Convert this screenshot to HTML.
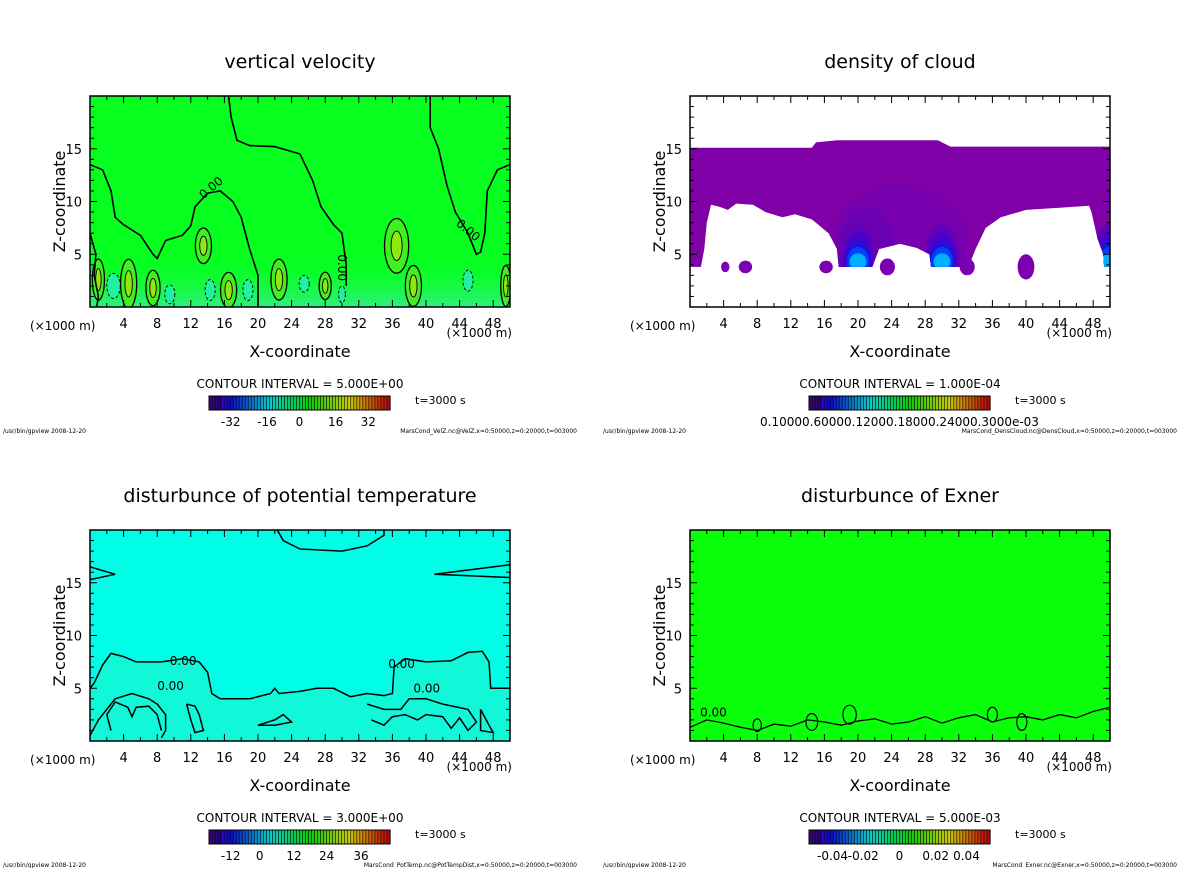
<!DOCTYPE html>
<html><head><meta charset="utf-8"><style>
body{margin:0;background:#fff;}
svg text{font-family:"DejaVu Sans","Liberation Sans",sans-serif;fill:#000;}
</style></head><body>
<svg id="s" width="1200" height="868" xmlns="http://www.w3.org/2000/svg"></svg>
<script>
const xTicks=[4,8,12,16,20,24,28,32,36,40,44,48];
const zTicks=[5,10,15];
const titles=["vertical velocity","density of cloud","disturbunce of potential temperature","disturbunce of Exner"];
const intervals=["CONTOUR INTERVAL = 5.000E+00","CONTOUR INTERVAL = 1.000E-04","CONTOUR INTERVAL = 3.000E+00","CONTOUR INTERVAL = 5.000E-03"];
const cbLabels=[["-32","-16","0","16","32"],["0.10000.60000.12000.18000.24000.3000e-03"],["-12","0","12","24","36"],["-0.04","-0.02","0","0.02","0.04"]];
const cbPos=[[0.12,0.32,0.5,0.7,0.88],[0.5],[0.12,0.28,0.47,0.65,0.84],[0.13,0.3,0.5,0.7,0.87]];
const files=["MarsCond_VelZ.nc@VelZ,x=0:50000,z=0:20000,t=003000","MarsCond_DensCloud.nc@DensCloud,x=0:50000,z=0:20000,t=003000","MarsCond_PotTemp.nc@PotTempDist,x=0:50000,z=0:20000,t=003000","MarsCond_Exner.nc@Exner,x=0:50000,z=0:20000,t=003000"];
const velLines=[
[[0,13.5],[1.5,13],[2.5,11],[3,8.5],[4,7.8],[6,6.8],[7.5,5],[8,4.6],[9,6.3],[11,6.8],[12,7.7],[12.5,9.5],[14,10.8],[15.5,11],[17,10],[18,8.5],[19,5.5],[20,3],[20,0]],
[[16.5,20],[16.8,18],[17.5,15.8],[19,15.3],[22,15.2],[25,14.5],[26.5,12],[27.5,9.5],[29,7.8],[30,7],[30.5,4],[30.5,2]],
[[40.5,20],[40.5,17],[41.5,15],[42.5,11.5],[43.5,9],[45,7],[46,5],[46.5,5.2],[47,7],[47.3,11],[48.5,13],[50,13.5]],
[[0,7],[0.7,5],[0.5,3],[1,1],[0.8,0]]];
const velPos=[[1,2.6,.6,1.5],[4.6,2.2,.8,1.8],[7.5,1.8,.7,1.3],[16.5,1.6,.8,1.3],[22.5,2.6,.8,1.5],[28,2,.6,1],[38.5,2,.8,1.5],[49.5,2,.5,1.5],[13.5,5.8,.8,1.3],[36.5,5.8,1.2,2]];
const velNeg=[[2.8,2,.8,1.2],[9.5,1.2,.6,.9],[14.3,1.6,.6,1],[18.8,1.6,.6,1],[25.5,2.2,.6,.8],[30,1.2,.4,.8],[45,2.5,.6,1]];
const cloudPoly=[[0,15.1],[14.5,15.1],[15,15.6],[17.5,15.8],[29.5,15.8],[31,15.2],[50,15.2],[50,3.8],[49.3,3.8],[49.2,5],[48.5,6.5],[47.8,9],[47.5,9.6],[44,9.4],[40,9.2],[37,8.5],[35.2,7.5],[34,5.5],[33.5,4.5],[33.5,3.8],[28.7,3.8],[28.5,5],[27,5.6],[25,6],[22.5,5.5],[21.7,3.8],[17.7,3.8],[17.5,5.5],[16.5,7],[14.5,8.3],[12.5,8.8],[11,8.5],[9,9],[7.5,9.7],[5.5,9.8],[4.5,9.2],[3.5,9.5],[2.5,9.7],[2,8],[1.7,5.5],[1.3,3.8],[0,3.8]];
const cloudBlobs=[[4.2,3.8,.5,.5],[6.6,3.8,.8,.6],[16.2,3.8,.8,.6],[23.5,3.8,.9,.8],[40,3.8,1,1.2],[33,3.8,.9,.8]];
const cloudCores=[[20,4.3],[30,4.3],[50,4.3]];
const ptLines=[
[[0,16.5],[3,15.8],[0,15.3]],[[50,16.7],[46,16.3],[41,15.8],[50,15.5]],
[[22.3,20],[23,19],[25,18.2],[30,18],[33,18.5],[35,19.5],[35,20]],
[[0,5],[0.5,5.5],[1.5,7.2],[2.5,8.3],[4,8],[5.5,7.5],[8.5,7.5],[11,7.8],[13,7.5],[14,6.5],[14.5,4.5],[15.5,4],[19,4],[21.5,4.5],[22,5],[22.5,4.5],[25,4.7],[27,5],[29,5],[31,4.2],[33,4.5],[35,4.3],[36,4.5],[36.2,7],[37.5,7.8],[40,7.5],[43,7.6],[45,8.4],[46.7,8.5],[47.5,7.5],[47.7,5],[50,5]],
[[0,0.5],[1,2],[3,4],[5,4.5],[7,4],[8,3.5],[9,2.5],[9,1],[8.5,0.3]],
[[2.5,1],[2,2.5],[3,3.7],[4.5,3.2],[5,2.3],[5.5,3.2],[7,3.3],[8,2.5],[8.5,1]],
[[11.5,3.5],[12,2],[12.5,0.8],[13.5,1],[13,2.5],[12.5,3.3],[11.5,3.5]],
[[20,1.5],[22,2],[23,2.5],[24,1.8],[22,1.5],[20,1.5]],
[[33,3.5],[35,3],[37,3],[38,4],[40,4],[42,3.5],[45,3],[46,1.8],[45,1],[44,2.2],[43,1.2],[42,2.3],[40,2.5],[39,2],[37.5,2.5],[36,2.3],[35,1.5],[33.5,2]],
[[46.5,3],[47.5,1.5],[48,0.8],[46.5,1],[46.5,3]]];
const exnerZ=[1.3,2,1.7,1.3,1,1.6,1.4,2,1.8,1.5,1.9,2.1,1.6,1.8,2.3,1.7,2.2,2.5,1.8,2.2,2.3,2,2.5,2.2,2.8,3.2];
const exnerBlobs=[[14.5,1.8,.7,.8],[19,2.5,.8,.9],[36,2.5,.6,.7],[39.5,1.8,.6,.8],[8,1.5,.5,.6]];

const NS="http://www.w3.org/2000/svg";
const svg=document.getElementById('s');
function mk(tag,attrs,parent,txt){const e=document.createElementNS(NS,tag);for(const k in attrs)e.setAttribute(k,attrs[k]);if(txt!==undefined)e.textContent=txt;(parent||svg).appendChild(e);return e;}
const W=420,H=211;
function panel(i,ox,oy){
  const g=mk('g',{});
  
  
  const X=x=>ox+x*W/50, Y=z=>oy+H-z*H/20;
  const pth=pts=>pts.map((p,k)=>(k?'L':'M')+X(p[0]).toFixed(1)+','+Y(p[1]).toFixed(1)).join('');
  const cx=ox+W/2;
  const t=mk('text',{x:cx,y:oy-28,'text-anchor':'middle','font-size':19},g,titles[i]);
  
  const bg=mk('g',{},g);
  
  const clip='c'+i; const d=mk('clipPath',{id:clip},g); mk('rect',{x:ox,y:oy,width:W,height:H},d);
  bg.setAttribute('clip-path','url(#'+clip+')');
  if(i===0){
    mk('rect',{x:ox,y:oy,width:W,height:H,fill:'#06ff1e'},bg);
    const gr=mk('linearGradient',{id:'g0',x1:0,y1:0,x2:0,y2:1},d);
    mk('stop',{offset:0,'stop-color':'#06ff1e','stop-opacity':0},gr);mk('stop',{offset:1,'stop-color':'#30f080','stop-opacity':1},gr);
    mk('rect',{x:ox,y:Y(5),width:W,height:Y(0)-Y(5),fill:'url(#g0)'},bg);
    velPos.forEach(e=>{mk('ellipse',{cx:X(e[0]),cy:Y(e[1]),rx:e[2]*8.4*1.2,ry:e[3]*10.5*1.3,fill:'#40f020',stroke:'#000','stroke-width':1.3},bg);mk('ellipse',{cx:X(e[0]),cy:Y(e[1]),rx:e[2]*8.4*.55,ry:e[3]*10.5*.7,fill:'#90e810',stroke:'#000','stroke-width':0.9},bg);});
    velNeg.forEach(e=>mk('ellipse',{cx:X(e[0]),cy:Y(e[1]),rx:e[2]*8.4,ry:e[3]*10.5,fill:'#20f0a0',stroke:'#000','stroke-width':0.9,'stroke-dasharray':'3,2'},bg));
    velLines.forEach(l=>mk('path',{d:pth(l),fill:'none',stroke:'#000','stroke-width':1.6},bg));
    [[13.5,10.2,-40],[29.5,5,90],[43.5,7.8,40]].forEach(p=>mk('text',{x:X(p[0]),y:Y(p[1]),'font-size':12,transform:`rotate(${p[2]} ${X(p[0])} ${Y(p[1])})`},bg,'0.00'));
  } else if(i===1){
    mk('rect',{x:ox,y:oy,width:W,height:H,fill:'#fff'},bg);
    const cc=mk('clipPath',{id:'cloudclip'},d);
    mk('path',{d:pth(cloudPoly)+'Z'},cc);
    mk('path',{d:pth(cloudPoly)+'Z',fill:'#8000a8'},bg);
    cloudBlobs.forEach(b=>mk('ellipse',{cx:X(b[0]),cy:Y(b[1]),rx:b[2]*8.4,ry:b[3]*10.5,fill:'#7a00b0'},bg));
    const cg=mk('g',{'clip-path':'url(#cloudclip)'},bg);
    mk('ellipse',{cx:X(25),cy:Y(6),rx:X(8)-X(0),ry:Y(0)-Y(5.5),fill:'#7600ae'},cg);
    mk('ellipse',{cx:X(21),cy:Y(5),rx:X(3.5)-X(0),ry:Y(0)-Y(4.5),fill:'#6a00b4'},cg);
    cloudCores.forEach(c=>{[['#6000b8',2.1,3.6],['#4a00c8',1.8,2.8],['#2010d8',1.5,2.0],['#0040ff',1.3,1.4],['#00b0ff',1.0,0.8]].forEach(s=>mk('ellipse',{cx:X(c[0]),cy:Y(c[1]),rx:s[1]*8.4,ry:s[2]*10.5,fill:s[0]},cg));});
  } else if(i===2){
    mk('rect',{x:ox,y:oy,width:W,height:H,fill:'#00fde6'},bg);
    mk('path',{d:pth(ptLines[3])+'L'+X(50)+','+Y(0)+'L'+X(0)+','+Y(0)+'Z',fill:'#10f8d8'},bg);
    ptLines.forEach(l=>mk('path',{d:pth(l),fill:'none',stroke:'#000','stroke-width':1.5},bg));
    [[9.5,7.6],[35.5,7.3],[8,5.2],[38.5,5]].forEach(p=>mk('text',{x:X(p[0]),y:Y(p[1])+4,'font-size':12},bg,'0.00'));
  } else {
    mk('rect',{x:ox,y:oy,width:W,height:H,fill:'#0aff0a'},bg);
    mk('path',{d:pth(exnerZ.map((z,k)=>[k*2,z])),fill:'none',stroke:'#000','stroke-width':1.3},bg);
    exnerBlobs.forEach(e=>mk('ellipse',{cx:X(e[0]),cy:Y(e[1]),rx:e[2]*8.4,ry:e[3]*10.5,fill:'none',stroke:'#000','stroke-width':1.2},bg));
    mk('text',{x:X(1.2),y:Y(2.3),'font-size':12},bg,'0.00');
  }
  const fr=mk('rect',{x:ox,y:oy,width:W,height:H,fill:'none',stroke:'#000','stroke-width':1.5},g);
  
  const ax=mk('g',{},g);
  for(let x=2;x<50;x+=2){const L=x%4===0?7:4;mk('line',{x1:X(x),x2:X(x),y1:oy,y2:oy+L,stroke:'#000'},ax);mk('line',{x1:X(x),x2:X(x),y1:oy+H,y2:oy+H-L,stroke:'#000'},ax);}
  xTicks.forEach(x=>mk('text',{x:X(x),y:oy+H+21,'text-anchor':'middle','font-size':13},ax,String(x)));
  mk('text',{x:ox-60,y:oy+H+23,'font-size':12},ax,'(×1000 m)');
  mk('text',{x:ox+W+2,y:oy+H+30,'text-anchor':'end','font-size':12},ax,'(×1000 m)');
  mk('text',{x:cx,y:oy+H+50,'text-anchor':'middle','font-size':16},ax,'X-coordinate');
  const ay=mk('g',{},g);
  for(let z=1;z<20;z++){const L=z%5===0?7:4;mk('line',{x1:ox,x2:ox+L,y1:Y(z),y2:Y(z),stroke:'#000'},ay);mk('line',{x1:ox+W,x2:ox+W-L,y1:Y(z),y2:Y(z),stroke:'#000'},ay);}
  zTicks.forEach(z=>mk('text',{x:ox-8,y:Y(z)+5,'text-anchor':'end','font-size':13},ay,String(z)));
  mk('text',{x:ox-25,y:oy+H/2,'text-anchor':'middle','font-size':16,transform:`rotate(-90 ${ox-25} ${oy+H/2})`},ay,'Z-coordinate');
  const ci=mk('text',{x:cx,y:oy+H+81,'text-anchor':'middle','font-size':12},g,intervals[i]);
  
  const cb=mk('g',{},g);
  const bx=ox+119,by=oy+H+89,bw=181,bh=14,n=60;
  for(let k=0;k<n;k++){const h=270-k*(270/(n-1));const l=k<4?25:(k>n-6?40:42);mk('rect',{x:bx+k*bw/n,y:by,width:bw/n+0.3,height:bh,fill:`hsl(${h>0?h:0},90%,${l}%)`,stroke:'#000','stroke-width':0.6},cb);}
  mk('rect',{x:bx,y:by,width:bw,height:bh,fill:'none',stroke:'#000'},cb);
  cbLabels[i].forEach((s,k)=>mk('text',{x:bx+cbPos[i][k]*bw,y:by+30,'text-anchor':'middle','font-size':12},cb,s));
  mk('text',{x:ox+325,y:by+8,'font-size':11},g,'t=3000 s');
  mk('text',{x:ox-87,y:oy+H+126,'font-size':6},g,'/usr/bin/gpview   2008-12-20');
  mk('text',{x:ox+W+67,y:oy+H+126,'text-anchor':'end','font-size':6},g,files[i]);
}
panel(0,90,96);panel(1,690,96);panel(2,90,530);panel(3,690,530);
</script>
</body></html>
